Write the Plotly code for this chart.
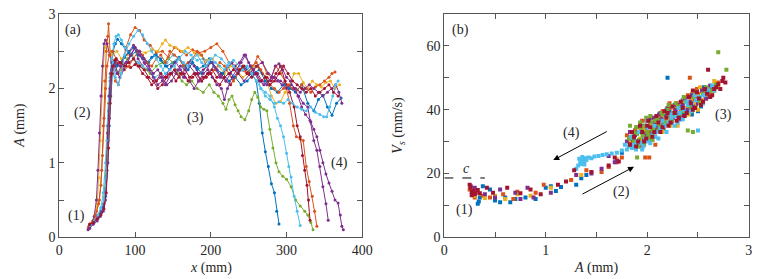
import plotly.graph_objects as go

# ---------------- colours (MATLAB default order) ----------------
BLUE = "#0072BD"; ORANGE = "#D95319"; YELLOW = "#EDB120"; PURPLE = "#7E2F8E"
GREEN = "#77AC30"; LIGHTBLUE = "#4DBEEE"; DARKRED = "#A2142F"

# ---------------- panel (a): A versus x, one list pair per run ----------------
RUN1_X = [40, 45, 50, 55, 58, 61, 63, 65, 67, 69, 71, 74, 77, 82, 88, 95, 102, 110, 118, 126, 134, 142, 150, 158, 166, 174, 182, 190, 198, 206, 214, 222, 230, 238, 246, 254, 260, 264, 268, 272, 276, 280, 284, 287, 290]
RUN1_A = [0.15, 0.2, 0.26, 0.33, 0.4, 0.6, 1.1, 1.7, 2.1, 2.35, 2.5, 2.6, 2.66, 2.6, 2.52, 2.45, 2.5, 2.42, 2.35, 2.45, 2.4, 2.3, 2.35, 2.42, 2.3, 2.38, 2.25, 2.3, 2.4, 2.28, 2.2, 2.3, 2.15, 2.25, 2.28, 2.2, 2.1, 1.8, 1.4, 1.15, 0.95, 0.72, 0.6, 0.35, 0.18]

RUN2_X = [39, 44, 49, 53, 56, 58, 60, 62, 64, 65, 67, 70, 74, 78, 83, 88, 94, 100, 106, 112, 120, 128, 136, 144, 152, 160, 168, 176, 184, 192, 200, 208, 216, 224, 232, 240, 248, 256, 262, 268, 274, 280, 286, 292, 298, 304, 309, 313, 318, 322, 326, 330, 334, 337, 340]
RUN2_A = [0.15, 0.22, 0.35, 0.5, 0.9, 1.5, 2.1, 2.5, 2.7, 2.87, 2.5, 2.25, 2.1, 2.05, 2.3, 2.55, 2.72, 2.82, 2.78, 2.65, 2.58, 2.48, 2.5, 2.42, 2.55, 2.5, 2.45, 2.52, 2.48, 2.5, 2.55, 2.6, 2.5, 2.35, 2.3, 2.25, 2.2, 2.3, 2.43, 2.35, 2.2, 2.15, 2.3, 2.2, 2.1, 1.8, 1.5, 1.35, 1.32, 1.3, 0.95, 0.75, 0.55, 0.35, 0.15]

RUN3_X = [38, 43, 47, 50, 52, 54, 56, 58, 60, 63, 66, 70, 76, 82, 90, 98, 106, 114, 122, 130, 136, 140, 146, 154, 162, 170, 178, 186, 194, 202, 210, 218, 226, 234, 242, 250, 258, 266, 274, 280, 286, 292, 298, 304, 310, 316, 322, 328, 334, 340, 346, 352, 358, 364, 370]
RUN3_A = [0.12, 0.2, 0.3, 0.45, 0.8, 1.3, 1.9, 2.3, 2.55, 2.62, 2.5, 2.45, 2.5, 2.4, 2.45, 2.55, 2.5, 2.48, 2.52, 2.5, 2.6, 2.65, 2.58, 2.55, 2.5, 2.55, 2.48, 2.45, 2.38, 2.4, 2.3, 2.2, 2.3, 2.25, 2.15, 2.2, 2.3, 2.25, 2.1, 1.9, 1.8, 1.82, 1.95, 2.05, 2.2, 2.2, 2.08, 2.0, 2.1, 2.05, 2.02, 2.08, 2.1, 2.0, 2.05]

RUN4_X = [38, 42, 46, 49, 51, 53, 55, 57, 59, 61, 63, 66, 70, 75, 80, 86, 92, 98, 104, 110, 116, 122, 128, 134, 140, 148, 156, 164, 172, 180, 188, 196, 204, 212, 220, 228, 236, 244, 252, 260, 268, 276, 284, 292, 300, 308, 316, 322, 328, 332, 336, 340, 344, 348, 352, 355]
RUN4_A = [0.1, 0.17, 0.28, 0.5, 0.9, 1.4, 1.9, 2.3, 2.6, 2.65, 2.6, 2.45, 2.3, 2.38, 2.3, 2.42, 2.5, 2.58, 2.4, 2.3, 2.35, 2.2, 2.1, 2.15, 2.05, 2.2, 2.25, 2.15, 2.3, 2.2, 2.1, 2.2, 2.3, 2.15, 2.25, 2.35, 2.2, 2.1, 2.2, 2.3, 2.35, 2.2, 2.15, 2.1, 2.05, 2.0, 1.9, 1.8, 1.75, 1.55, 1.3, 1.17, 0.95, 0.68, 0.45, 0.23]

RUN5_X = [40, 45, 50, 55, 58, 61, 63, 65, 67, 70, 74, 78, 84, 90, 96, 102, 108, 114, 120, 128, 136, 144, 150, 156, 162, 168, 175, 182, 190, 198, 204, 210, 216, 220, 224, 228, 232, 236, 240, 245, 250, 254, 258, 262, 266, 270, 274, 278, 282, 286, 290, 295, 300, 306, 312, 318, 324, 328, 332, 335]
RUN5_A = [0.12, 0.18, 0.25, 0.35, 0.45, 0.8, 1.3, 1.8, 2.15, 2.35, 2.3, 2.2, 2.3, 2.4, 2.45, 2.35, 2.3, 2.25, 2.2, 2.3, 2.35, 2.4, 2.35, 2.2, 2.1, 2.05, 2.1, 2.0, 1.95, 2.05, 1.95, 1.9, 1.8, 1.72, 1.85, 1.9, 1.78, 1.7, 1.62, 1.58, 1.7, 1.85, 1.95, 1.88, 1.75, 1.72, 1.7, 1.45, 1.2, 1.0, 0.88, 0.82, 0.78, 0.68, 0.5, 0.42, 0.35, 0.3, 0.2, 0.1]

RUN6_X = [41, 46, 51, 55, 58, 61, 63, 65, 67, 69, 72, 75, 78, 82, 87, 92, 98, 104, 110, 118, 126, 134, 142, 150, 158, 166, 174, 182, 190, 198, 206, 214, 222, 230, 238, 246, 254, 260, 266, 272, 278, 284, 288, 292, 296, 300, 303, 306, 310, 314, 318]
RUN6_A = [0.15, 0.22, 0.3, 0.4, 0.6, 1.0, 1.5, 1.9, 2.2, 2.4, 2.6, 2.7, 2.72, 2.65, 2.55, 2.48, 2.4, 2.35, 2.3, 2.25, 2.15, 2.2, 2.35, 2.45, 2.4, 2.5, 2.45, 2.38, 2.4, 2.35, 2.45, 2.4, 2.3, 2.38, 2.3, 2.25, 2.3, 2.2, 2.0, 1.95, 1.9, 1.75, 1.6, 1.5, 1.35, 1.13, 0.95, 0.81, 0.55, 0.35, 0.16]

RUN7_X = [40, 45, 50, 55, 59, 62, 64, 66, 68, 70, 73, 77, 82, 88, 94, 100, 106, 112, 118, 124, 130, 136, 142, 148, 154, 160, 166, 172, 178, 184, 190, 196, 202, 208, 214, 220, 226, 232, 238, 244, 250, 256, 262, 268, 274, 280, 286, 292, 298, 304, 310, 314, 318, 321, 324, 327, 329, 331]
RUN7_A = [0.18, 0.22, 0.28, 0.35, 0.45, 0.8, 1.4, 1.9, 2.2, 2.35, 2.38, 2.32, 2.35, 2.3, 2.28, 2.32, 2.3, 2.25, 2.15, 2.1, 2.0, 2.05, 2.15, 2.2, 2.1, 2.2, 2.25, 2.15, 2.2, 2.1, 2.15, 2.2, 2.25, 2.15, 2.2, 2.1, 2.05, 2.15, 2.25, 2.3, 2.2, 2.25, 2.3, 2.2, 2.15, 2.1, 2.2, 2.3, 2.1, 1.95, 1.75, 1.5, 1.35, 1.1, 0.9, 0.7, 0.5, 0.23]

RUN8_X = [41, 46, 51, 55, 58, 61, 64, 66, 68, 70, 73, 76, 80, 86, 92, 98, 104, 110, 116, 122, 128, 134, 140, 146, 152, 158, 164, 170, 176, 182, 188, 194, 200, 208, 216, 224, 232, 240, 248, 256, 264, 272, 280, 288, 296, 304, 312, 320, 328, 336, 342, 348, 354, 360, 366, 372]
RUN8_A = [0.16, 0.2, 0.25, 0.32, 0.4, 0.55, 1.0, 1.5, 1.9, 2.2, 2.35, 2.3, 2.35, 2.42, 2.48, 2.55, 2.45, 2.4, 2.35, 2.42, 2.45, 2.38, 2.3, 2.25, 2.35, 2.4, 2.3, 2.25, 2.35, 2.28, 2.2, 2.3, 2.35, 2.25, 2.2, 2.1, 2.15, 2.05, 2.1, 2.2, 2.25, 2.1, 2.0, 1.95, 2.05, 2.0, 1.95, 2.05, 1.8, 1.7, 1.85, 1.91, 1.75, 1.64, 1.8, 1.87]

RUN9_X = [39, 44, 48, 52, 55, 57, 59, 61, 63, 66, 70, 75, 80, 86, 92, 98, 104, 110, 116, 122, 128, 134, 140, 146, 152, 158, 164, 170, 176, 182, 188, 194, 200, 206, 212, 218, 224, 230, 236, 242, 248, 254, 260, 266, 272, 278, 284, 290, 296, 302, 308, 314, 320, 326, 332, 338, 344, 350, 356, 360, 364]
RUN9_A = [0.14, 0.2, 0.3, 0.45, 0.7, 1.1, 1.6, 2.0, 2.3, 2.45, 2.5, 2.4, 2.35, 2.25, 2.3, 2.4, 2.5, 2.45, 2.35, 2.3, 2.4, 2.45, 2.35, 2.5, 2.45, 2.4, 2.3, 2.35, 2.4, 2.5, 2.45, 2.3, 2.2, 2.25, 2.35, 2.3, 2.2, 2.1, 2.2, 2.25, 2.2, 2.3, 2.35, 2.25, 2.15, 2.05, 2.0, 1.95, 2.0, 2.05, 2.0, 1.98, 2.05, 2.0, 1.95, 2.02, 2.05, 2.1, 2.15, 2.2, 2.22]

RUN10_X = [40, 45, 50, 54, 58, 61, 64, 66, 68, 70, 73, 77, 82, 88, 94, 100, 106, 112, 118, 124, 130, 136, 142, 148, 154, 160, 166, 172, 178, 184, 190, 196, 202, 208, 214, 220, 226, 232, 238, 244, 250, 256, 262, 268, 274, 280, 285, 290, 295, 300, 305, 310, 315, 320, 325, 331, 336, 340, 344, 348, 352, 356, 360, 364, 368, 371, 373, 375]
RUN10_A = [0.12, 0.18, 0.22, 0.28, 0.35, 0.5, 1.0, 1.6, 2.1, 2.3, 2.35, 2.2, 2.3, 2.35, 2.45, 2.55, 2.5, 2.4, 2.3, 2.2, 2.25, 2.15, 2.05, 2.1, 2.2, 2.3, 2.25, 2.35, 2.3, 2.2, 2.25, 2.3, 2.35, 2.25, 2.15, 2.1, 2.2, 2.3, 2.35, 2.45, 2.35, 2.25, 2.2, 2.1, 2.05, 2.15, 2.3, 2.33, 2.25, 2.15, 2.1, 2.0, 1.9, 1.75, 1.65, 1.57, 1.45, 1.35, 1.17, 1.0, 0.85, 0.73, 0.62, 0.5, 0.46, 0.3, 0.15, 0.1]

RUN11_X = [39, 44, 49, 53, 57, 60, 63, 65, 67, 69, 72, 76, 80, 85, 90, 95, 100, 106, 112, 118, 124, 130, 136, 142, 148, 154, 160, 166, 172, 178, 184, 190, 196, 202, 208, 214, 218, 222, 228, 234, 240, 246, 252, 258, 264, 270, 276, 282, 288, 294, 300, 306, 312, 318, 324, 330, 336, 342, 348, 354, 360, 365, 369, 373]
RUN11_A = [0.12, 0.18, 0.24, 0.3, 0.38, 0.5, 0.9, 1.5, 2.0, 2.25, 2.3, 2.2, 2.15, 2.25, 2.35, 2.45, 2.55, 2.45, 2.35, 2.25, 2.15, 2.05, 2.1, 2.2, 2.3, 2.35, 2.25, 2.15, 2.1, 2.0, 2.1, 2.2, 2.25, 2.15, 2.05, 2.0, 1.85, 2.0, 2.15, 2.25, 2.35, 2.45, 2.3, 2.2, 2.1, 2.05, 2.1, 2.15, 2.1, 2.05, 2.0, 2.05, 2.0, 1.95, 2.0, 2.05, 2.0, 1.95, 1.9, 1.95, 2.0, 2.05, 1.95, 1.8]

RUN12_X = [41, 46, 51, 55, 59, 62, 65, 67, 69, 71, 74, 78, 82, 86, 92, 98, 104, 110, 116, 122, 128, 134, 140, 146, 152, 158, 164, 170, 176, 182, 188, 194, 200, 206, 212, 218, 224, 230, 236, 242, 248, 254, 260, 266, 272, 278, 284, 290, 296, 302, 308, 314, 320, 326, 332, 338, 344, 349, 353, 357, 361, 365, 368]
RUN12_A = [0.16, 0.22, 0.3, 0.38, 0.5, 0.8, 1.3, 1.8, 2.2, 2.35, 2.15, 2.05, 2.2, 2.45, 2.6, 2.7, 2.78, 2.72, 2.6, 2.5, 2.4, 2.3, 2.2, 2.25, 2.3, 2.4, 2.35, 2.3, 2.4, 2.45, 2.35, 2.3, 2.4, 2.35, 2.3, 2.25, 2.35, 2.3, 2.2, 2.25, 2.3, 2.2, 2.1, 2.0, 1.9, 1.85, 1.8, 1.82, 1.8, 1.85, 1.8, 1.75, 1.72, 1.7, 1.75, 1.68, 1.65, 1.62, 1.62, 1.75, 1.9, 2.05, 2.1]

RUN13_X = [40, 45, 50, 55, 59, 62, 65, 67, 69, 71, 75, 80, 86, 92, 98, 104, 110, 116, 122, 128, 134, 140, 146, 152, 158, 164, 170, 176, 182, 188, 194, 200, 206, 212, 218, 224, 230, 236, 242, 248, 254, 260, 266, 272, 278, 284, 290, 296, 302, 308, 314, 320, 326, 332, 338, 344, 350, 356, 362, 368]
RUN13_A = [0.17, 0.2, 0.25, 0.3, 0.38, 0.6, 1.2, 1.8, 2.2, 2.3, 2.4, 2.35, 2.3, 2.35, 2.4, 2.3, 2.2, 2.15, 2.05, 2.1, 2.2, 2.15, 2.2, 2.25, 2.15, 2.2, 2.1, 2.15, 2.2, 2.1, 2.15, 2.2, 2.1, 2.05, 2.15, 2.2, 2.25, 2.2, 2.3, 2.2, 2.15, 2.2, 2.1, 2.15, 2.05, 2.1, 2.2, 2.3, 2.2, 2.1, 2.05, 2.0, 1.95, 2.0, 1.9, 1.95, 2.0, 2.05, 1.95, 1.9]

RUNS = [
    (RUN1_X, RUN1_A, BLUE), (RUN2_X, RUN2_A, ORANGE), (RUN3_X, RUN3_A, YELLOW),
    (RUN4_X, RUN4_A, PURPLE), (RUN5_X, RUN5_A, GREEN), (RUN6_X, RUN6_A, LIGHTBLUE),
    (RUN7_X, RUN7_A, DARKRED), (RUN8_X, RUN8_A, BLUE), (RUN9_X, RUN9_A, ORANGE),
    (RUN10_X, RUN10_A, PURPLE), (RUN11_X, RUN11_A, PURPLE), (RUN12_X, RUN12_A, LIGHTBLUE),
    (RUN13_X, RUN13_A, DARKRED),
]

# ---------------- panel (b): V_s versus A, one list pair per colour ----------------
B_BLUE_A = [0.33, 0.34, 0.35, 0.38, 0.45, 0.5, 0.55, 0.6, 0.65, 0.7, 0.8, 0.9, 1.0, 1.05, 1.1, 1.15, 1.3, 1.35, 1.4,
            1.85, 1.9, 1.95, 1.98, 2.02, 2.05, 2.08, 2.1, 2.14, 2.18, 2.2, 2.22, 2.25, 2.28, 2.3, 2.33, 2.36, 2.4, 2.42, 2.45, 2.48, 2.5, 2.52, 2.55, 2.57, 2.58, 2.6, 2.6, 2.62, 2.2, 1.75, 2.59, 2.61, 2.56,
            1.88, 1.93, 1.97, 2.0, 2.04, 2.07, 2.12, 2.16, 2.19, 2.24, 2.27, 2.31, 2.35, 2.38, 2.44, 2.47, 2.53, 2.56, 2.63, 2.5]
B_BLUE_V = [10.5, 11.2, 12.5, 16, 15, 11.5, 11, 12.5, 11, 12, 12.5, 12, 15.5, 16, 14.5, 15.8, 16.5, 18.5, 19.5,
            30, 32.5, 31, 34, 33, 35.5, 34, 36.5, 35, 38, 36, 39.5, 37.5, 40, 38.5, 41, 39, 42, 40.5, 43, 41.5, 44, 43, 45, 44.5, 43.5, 45.5, 44, 46, 50, 26.5, 45, 44.5, 46,
            33.5, 29.5, 35, 31.5, 37.5, 32.5, 38.5, 34, 40, 36.5, 41.5, 37, 43, 40, 38.5, 45.5, 41, 47, 47.5, 39.5]

B_ORANGE_A = [0.25, 0.3, 0.38, 0.45, 0.58, 0.68, 0.72, 0.9, 0.98, 1.25, 1.4, 1.55, 1.62, 1.7, 1.75, 1.98, 2.02,
              1.8, 1.84, 1.88, 1.92, 1.96, 2.0, 2.03, 2.06, 2.1, 2.13, 2.16, 2.2, 2.24, 2.27, 2.3, 2.34, 2.38, 2.41, 2.44, 2.47, 2.5, 2.53, 2.56, 2.6, 2.63, 2.66, 2.42, 2.22, 2.08, 1.95,
              1.86, 1.9, 1.94, 1.99, 2.01, 2.05, 2.09, 2.11, 2.15, 2.19, 2.22, 2.26, 2.29, 2.33, 2.36, 2.4, 2.45, 2.49, 2.55, 2.58, 2.7]
B_ORANGE_V = [15, 12.5, 13, 12.5, 13.5, 12, 14.3, 14, 16.5, 18, 21, 20.5, 22, 23.5, 25, 25, 25,
              32, 29.5, 33.5, 30.5, 34, 31.5, 35.5, 33, 36, 37.5, 34.5, 38.5, 36.5, 40, 41.5, 38, 42.5, 40, 44, 41.5, 45, 43, 46, 44.5, 47, 46, 50, 42, 29, 36.5,
              31.5, 34.5, 28.5, 36.5, 33, 30.5, 37.5, 34.5, 39.5, 35.5, 40.5, 38, 42, 39.5, 40.5, 44.5, 43, 46.5, 42, 45.5, 48.5]

B_YELLOW_A = [0.3, 0.4, 0.5, 0.6, 0.72, 0.85, 1.05, 1.35, 1.7,
              1.82, 1.87, 1.93, 1.97, 2.01, 2.04, 2.09, 2.12, 2.17, 2.21, 2.26, 2.29, 2.32, 2.35, 2.39, 2.43, 2.46, 2.49, 2.51, 2.54, 2.58, 2.61, 2.64, 2.67, 2.7, 2.3, 2.5, 1.9, 2.15,
              1.84, 1.89, 1.95, 1.99, 2.03, 2.07, 2.11, 2.14, 2.19, 2.23, 2.27, 2.31, 2.36, 2.41, 2.44, 2.48, 2.52, 2.57, 2.62, 2.66]
B_YELLOW_V = [13, 12.3, 13, 12, 13.5, 13, 15.5, 19.5, 24.5,
              30.5, 32, 31, 33.5, 32, 35, 34, 36.5, 37, 36, 38.5, 40.5, 39, 42, 40.5, 43, 42, 44.5, 42.5, 45.5, 44, 46.5, 45, 48, 47, 35, 40, 29.5, 33,
              33, 29, 34.5, 30.5, 37, 32.5, 38, 33.5, 39.5, 35, 41, 37.5, 43.5, 38.5, 45, 40.5, 47, 43.5, 44, 49]

B_PURPLE_A = [0.26, 0.3, 0.4, 0.5, 0.55, 0.7, 0.75, 0.82, 0.88, 1.05, 1.3, 1.45, 1.55, 1.62, 1.7, 1.68,
              1.8, 1.85, 1.88, 1.91, 1.94, 1.97, 2.0, 2.02, 2.05, 2.07, 2.1, 2.14, 2.18, 2.21, 2.25, 2.28, 2.31, 2.35, 2.38, 2.42, 2.45, 2.48, 2.52, 2.56, 2.6, 2.64, 1.96, 2.02, 2.12, 2.33,
              1.83, 1.87, 1.9, 1.93, 1.98, 2.03, 2.06, 2.09, 2.13, 2.16, 2.2, 2.24, 2.29, 2.34, 2.37, 2.4, 2.44, 2.5, 2.54, 2.58, 2.62]
B_PURPLE_V = [16, 15.5, 13.5, 12.5, 15, 14, 12, 15.5, 12.5, 14, 19.5, 20, 21.5, 25.5, 24, 23.5,
              30, 28.5, 32, 30, 33.5, 31, 34.5, 32, 33, 36, 34.5, 37, 35.5, 39, 37.5, 40, 38.5, 41.5, 39.5, 42.5, 41, 43.5, 44, 45, 46, 47, 29, 37, 38.5, 37,
              33, 31, 29.5, 35, 32.5, 30.5, 37.5, 33.5, 39, 36, 40.5, 36, 41.5, 38, 43.5, 40, 44.5, 42, 46, 43.5, 47.5]

B_GREEN_A = [1.82, 1.86, 1.88, 1.9, 1.92, 1.94, 1.96, 1.98, 2.0, 2.02, 2.04, 2.06, 2.1, 2.12, 2.15, 2.18, 2.2, 2.23, 2.26, 2.3, 2.34, 2.38, 2.42, 2.46, 2.5, 2.55, 2.6, 2.7, 2.78, 2.4, 1.9, 1.85, 1.95, 2.05, 2.25, 2.35,
             1.83, 1.87, 1.89, 1.91, 1.93, 1.95, 1.97, 1.99, 2.01, 2.03, 2.05, 2.08, 2.11, 2.14, 2.17, 2.21, 2.24, 2.28, 2.32, 2.36, 2.44, 2.48, 2.52, 2.58, 2.64, 2.68, 2.45]
B_GREEN_V = [31, 33, 29.5, 32.5, 30.5, 34, 31.5, 35, 33, 31, 36, 34, 37, 35, 38.5, 36, 40, 37.5, 39, 41, 40, 42.5, 41, 44, 43, 45, 46.5, 58, 52.5, 33.5, 25, 31.5, 32.5, 33.5, 38, 39.5,
             35, 30, 34.5, 28.5, 36, 33, 29, 37.5, 32, 38, 30.5, 36.5, 33.5, 39, 35.5, 41.5, 36.5, 42, 38.5, 44, 39.5, 45.5, 42, 47, 46, 48, 33]

B_LIGHTBLUE_A = [1.3, 1.32, 1.34, 1.36, 1.37, 1.38, 1.39, 1.4, 1.42, 1.45, 1.48, 1.52, 1.56, 1.6, 1.65, 1.7, 1.75, 1.8, 1.85, 1.35, 1.36, 1.38, 1.33,
                 1.82, 1.87, 1.9, 1.94, 1.98, 2.01, 2.05, 2.09, 2.13, 2.17, 2.21, 2.24, 2.28, 2.32, 2.36, 2.4, 2.44, 2.48, 2.52, 2.56, 2.6, 2.64, 2.5, 2.08, 2.3, 2.0, 1.95,
                 1.84, 1.89, 1.92, 1.96, 2.0, 2.03, 2.07, 2.11, 2.15, 2.19, 2.23, 2.27, 2.31, 2.35, 2.39, 2.43, 2.47, 2.55, 2.58, 2.62, 2.66, 1.78]
B_LIGHTBLUE_V = [21.5, 22.5, 23.5, 24, 24.5, 23.8, 24.8, 24.2, 25, 24.8, 25.3, 25.5, 25.8, 26, 26.3, 26.5, 27.2, 27.5, 28, 23, 25.2, 22.8, 24.6,
                 28.5, 29, 30, 29.5, 31, 30, 32, 33, 34, 35, 36, 37.5, 38, 39, 40, 41.5, 42, 43, 44, 44.5, 46, 47.5, 33.5, 31.5, 36, 36.5, 27.5,
                 31.5, 27.5, 33, 28.5, 34.5, 29.5, 35, 31, 36.5, 33, 38.5, 35, 40.5, 37, 42.5, 39.5, 44.5, 42, 46.5, 44, 46, 29]

B_DARKRED_A = [0.25, 0.26, 0.27, 0.28, 0.29, 0.3, 0.31, 0.27, 0.33, 0.35, 0.42, 0.48, 0.62, 0.75, 0.85, 0.95, 1.12, 1.2, 1.28, 1.45, 1.62, 1.68, 1.72,
               1.83, 1.87, 1.91, 1.95, 1.99, 2.03, 2.07, 2.11, 2.15, 2.19, 2.23, 2.27, 2.31, 2.35, 2.39, 2.43, 2.47, 2.51, 2.55, 2.59, 2.62, 2.66, 2.7, 2.74, 2.77, 2.6, 2.0, 2.2, 2.45,
               1.85, 1.89, 1.93, 1.97, 2.01, 2.05, 2.09, 2.13, 2.17, 2.21, 2.25, 2.29, 2.33, 2.37, 2.41, 2.45, 2.49, 2.53, 2.57, 2.64, 2.68, 2.72, 2.75]
B_DARKRED_V = [16.5, 15.5, 14.2, 13.8, 14.5, 13.5, 14, 13.2, 14.8, 13.8, 15.5, 14, 15.5, 13.8, 15, 13.5, 16.5, 17.5, 21, 20.5, 22.5, 25, 23.8,
               29, 31.5, 30, 33, 31, 34.5, 33, 36, 34.5, 37.5, 36, 39, 37.5, 40.5, 39, 42, 40.5, 43.5, 42.5, 45, 44, 46.5, 48, 49, 48.5, 52.5, 35, 39, 46,
               33, 28.5, 35, 30, 36.5, 31.5, 38, 33, 39.5, 35, 41, 36.5, 42.5, 38, 44, 40, 45.5, 41.5, 46.5, 44.5, 47, 46.5, 50]

CLOUDS = [
    (B_BLUE_A, B_BLUE_V, BLUE), (B_ORANGE_A, B_ORANGE_V, ORANGE), (B_YELLOW_A, B_YELLOW_V, YELLOW),
    (B_PURPLE_A, B_PURPLE_V, PURPLE), (B_GREEN_A, B_GREEN_V, GREEN),
    (B_LIGHTBLUE_A, B_LIGHTBLUE_V, LIGHTBLUE), (B_DARKRED_A, B_DARKRED_V, DARKRED),
]

C_LINE_A = [0, 0.4]
C_LINE_V = [18.6, 18.6]

X_TICKS_A = [0, 100, 200, 300, 400]
Y_TICKS_A = [0, 0.5, 1, 1.5, 2, 2.5, 3]
Y_LABELS_A = ["0", "", "1", "", "2", "", "3"]
X_TICKS_B = [0, 0.5, 1, 1.5, 2, 2.5, 3]
X_LABELS_B = ["0", "", "1", "", "2", "", "3"]
Y_TICKS_B = [0, 10, 20, 30, 40, 50, 60, 70]
Y_LABELS_B = ["0", "", "20", "", "40", "", "60", ""]

FONT = "Liberation Serif"
TXT = "#262626"

fig = go.Figure()
for xs, ys, col in RUNS:
    fig.add_trace(go.Scatter(x=xs, y=ys, mode="lines+markers", xaxis="x", yaxis="y",
                             line=dict(color=col, width=1), marker=dict(color=col, size=3),
                             showlegend=False, hoverinfo="skip"))
for xs, ys, col in CLOUDS:
    fig.add_trace(go.Scatter(x=xs, y=ys, mode="markers", xaxis="x2", yaxis="y2",
                             marker=dict(color=col, size=4, symbol="square", line=dict(width=0)),
                             showlegend=False, hoverinfo="skip"))
fig.add_trace(go.Scatter(x=C_LINE_A, y=C_LINE_V, mode="lines", xaxis="x2", yaxis="y2",
                         line=dict(color="black", width=1, dash="dash"), showlegend=False))

ax_common = dict(showgrid=False, zeroline=False, showline=True, linecolor="#555555", linewidth=1,
                 mirror="ticks", ticks="inside", ticklen=5, tickcolor="#555555",
                 tickfont=dict(family=FONT, size=14, color=TXT), automargin=False, fixedrange=True)

XD_A = [59.3 / 763, 362.3 / 763]
XD_B = [444.3 / 763, 748.7 / 763]
YD = [(279 - 237.3) / 279, (279 - 14) / 279]

fig.update_layout(
    width=763, height=279, margin=dict(l=0, r=0, t=0, b=0),
    paper_bgcolor="white", plot_bgcolor="white",
    font=dict(family=FONT, size=14, color=TXT),
    xaxis=dict(domain=XD_A, range=[0, 400], tickvals=X_TICKS_A, anchor="y", **ax_common),
    yaxis=dict(domain=YD, range=[0, 3], tickvals=Y_TICKS_A, ticktext=Y_LABELS_A, anchor="x", **ax_common),
    xaxis2=dict(domain=XD_B, range=[0, 3], tickvals=X_TICKS_B, ticktext=X_LABELS_B, anchor="y2", **ax_common),
    yaxis2=dict(domain=YD, range=[0, 70], tickvals=Y_TICKS_B, ticktext=Y_LABELS_B, anchor="x2", **ax_common),
)

ann = []
def txt(x, y, s, xref="x", yref="y", **kw):
    ann.append(dict(x=x, y=y, xref=xref, yref=yref, text=s, showarrow=False,
                    xanchor="center", yanchor="middle",
                    font=dict(family=FONT, size=14, color=TXT), **kw))

# axis titles
txt((XD_A[0] + XD_A[1]) / 2, 11 / 279, "<i>x</i> (mm)", "paper", "paper")
txt((XD_B[0] + XD_B[1]) / 2, 11 / 279, "<i>A</i> (mm)", "paper", "paper")
txt(20 / 763, (YD[0] + YD[1]) / 2, "<i>A</i> (mm)", "paper", "paper", textangle=-90)
txt(399 / 763, (YD[0] + YD[1]) / 2, "<i>V<sub>s</sub></i> (mm/s)", "paper", "paper", textangle=-90)

# panel (a) labels
txt(17.7, 2.78, "(a)")
txt(23, 0.28, "(1)")
txt(31, 1.67, "(2)")
txt(180, 1.6, "(3)")
txt(370, 1.0, "(4)")
# panel (b) labels
txt(0.155, 65, "(b)", "x2", "y2")
txt(0.2, 8.5, "(1)", "x2", "y2")
txt(1.75, 14.3, "(2)", "x2", "y2")
txt(2.75, 38.3, "(3)", "x2", "y2")
txt(1.255, 32.6, "(4)", "x2", "y2")
txt(0.22, 21.5, "<i>c</i>", "x2", "y2")

# arrows
for hx, hy, tx, ty in [(1.074, 24.2, 1.616, 33.4), (1.87, 22.1, 1.347, 13.3)]:
    ann.append(dict(x=hx, y=hy, ax=tx, ay=ty, xref="x2", yref="y2", axref="x2", ayref="y2",
                    text="", showarrow=True, arrowhead=2, arrowsize=1.2, arrowwidth=1, arrowcolor="black"))

fig.update_layout(annotations=ann)
fig.write_html("out.html", config={"displayModeBar": False},
               post_script="document.body.style.margin='0px';")
